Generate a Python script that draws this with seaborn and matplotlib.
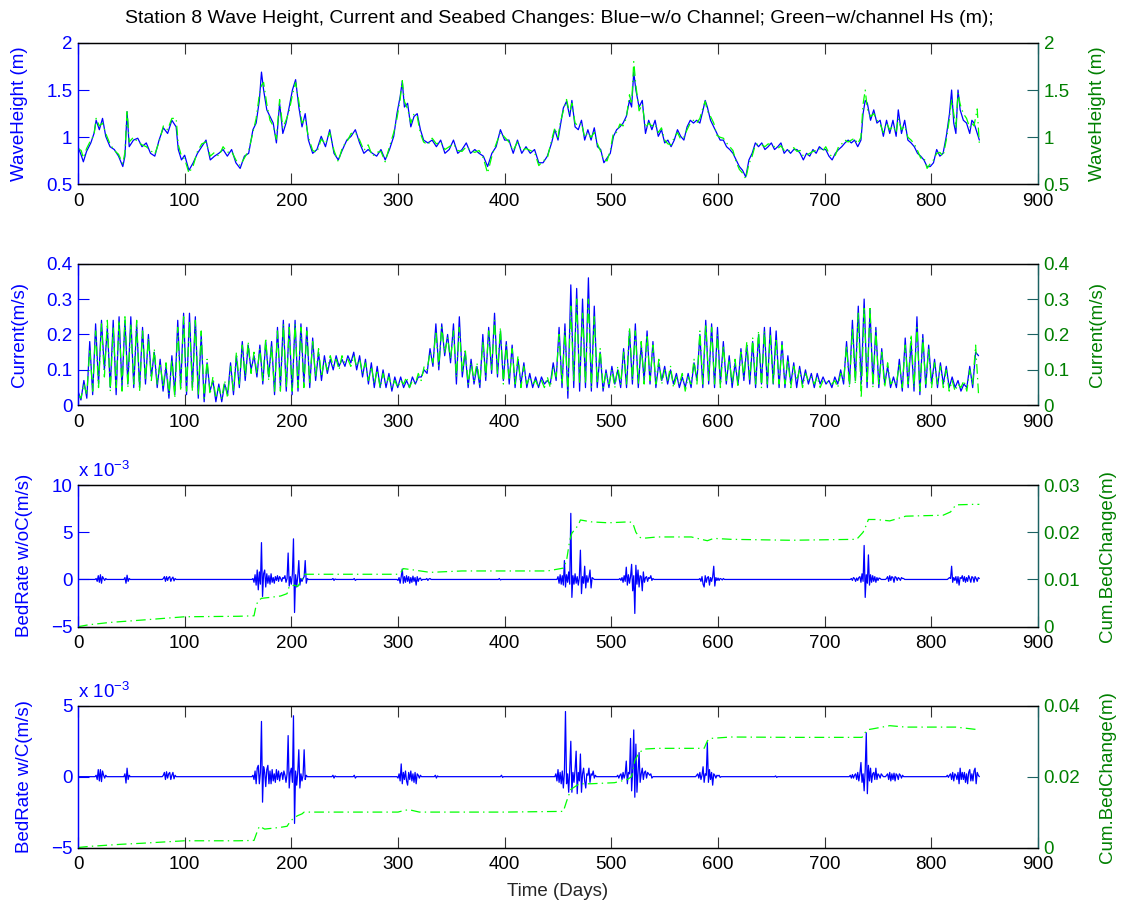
import numpy as np
import matplotlib
matplotlib.use("Agg")
import matplotlib.pyplot as plt
from matplotlib.ticker import FuncFormatter
import seaborn as sns

# ---------------------------------------------------------------- data
# Significant wave height (m), without / with channel
WH_DAYS = [0, 3, 5, 8, 12, 15, 17, 20, 23, 26, 30, 34, 38, 42, 44, 46, 48, 52, 56, 60,
           64, 68, 72, 76, 80, 84, 88, 92, 94, 97, 100, 104, 108, 112, 116, 120, 124, 128, 132, 136,
           140, 144, 148, 152, 156, 160, 164, 167, 170, 172, 174, 177, 180, 183, 186, 189, 192, 195, 198, 201,
           204, 207, 210, 213, 216, 220, 224, 228, 232, 236, 240, 244, 248, 252, 256, 260, 264, 268, 272, 276,
           280, 284, 288, 292, 296, 299, 302, 304, 306, 309, 312, 315, 318, 321, 324, 328, 332, 336, 340, 344,
           348, 352, 356, 360, 364, 368, 372, 376, 380, 384, 388, 392, 396, 400, 404, 408, 412, 416, 420, 424,
           428, 432, 436, 440, 444, 447, 450, 452, 455, 458, 461, 463, 466, 469, 472, 475, 478, 481, 484, 487,
           490, 493, 496, 499, 502, 505, 508, 511, 514, 517, 519, 521, 523, 526, 529, 532, 535, 538, 541, 544,
           547, 550, 553, 556, 559, 562, 565, 568, 571, 574, 577, 580, 583, 586, 588, 590, 593, 596, 599, 602,
           605, 608, 611, 614, 617, 620, 623, 626, 629, 632, 635, 638, 641, 644, 647, 650, 653, 656, 659, 662,
           665, 668, 671, 674, 677, 680, 683, 686, 689, 692, 695, 698, 701, 704, 707, 710, 713, 716, 719, 722,
           725, 728, 731, 734, 736, 738, 740, 743, 746, 749, 752, 755, 758, 761, 764, 767, 769, 772, 775, 778,
           781, 784, 787, 790, 793, 796, 799, 802, 805, 808, 811, 814, 817, 819, 821, 823, 825, 827, 830, 833,
           836, 838, 840, 843, 845]
WH_WO = [0.90, 0.81, 0.74, 0.85, 0.94, 1.04, 1.18, 1.08, 1.20, 1.01, 0.90, 0.87, 0.80, 0.69, 0.80, 1.27, 0.90, 0.97, 0.99, 0.90,
         0.94, 0.83, 0.80, 0.97, 1.10, 1.04, 1.18, 1.11, 0.87, 0.76, 0.81, 0.65, 0.73, 0.83, 0.90, 0.97, 0.76, 0.80, 0.83, 0.87,
         0.80, 0.87, 0.73, 0.67, 0.80, 0.83, 1.08, 1.15, 1.39, 1.69, 1.50, 1.29, 1.22, 1.15, 0.94, 1.36, 1.04, 1.15, 1.32, 1.50,
         1.61, 1.32, 1.11, 1.25, 0.97, 0.83, 0.87, 1.01, 0.90, 1.08, 0.83, 0.76, 0.87, 0.97, 1.01, 1.08, 0.94, 0.83, 0.87, 0.83,
         0.80, 0.87, 0.76, 0.87, 1.01, 1.25, 1.43, 1.59, 1.32, 1.36, 1.11, 1.22, 1.25, 1.08, 0.97, 0.94, 0.97, 0.90, 0.97, 0.83,
         0.87, 0.97, 0.83, 0.87, 0.94, 0.83, 0.87, 0.83, 0.80, 0.69, 0.83, 0.90, 1.08, 0.97, 0.97, 0.83, 0.97, 0.83, 0.90, 0.83,
         0.87, 0.73, 0.73, 0.80, 0.94, 1.08, 0.97, 1.11, 1.31, 1.38, 1.22, 1.39, 1.11, 1.08, 1.18, 0.97, 1.08, 0.97, 1.10, 0.90,
         0.87, 0.73, 0.78, 0.83, 1.01, 1.08, 1.11, 1.15, 1.22, 1.39, 1.32, 1.69, 1.50, 1.32, 1.39, 1.04, 1.18, 1.08, 1.18, 1.01,
         1.08, 0.94, 0.97, 0.90, 0.97, 1.08, 1.01, 0.97, 1.11, 1.18, 1.15, 1.18, 1.15, 1.29, 1.39, 1.32, 1.18, 1.11, 1.04, 0.97,
         0.97, 0.90, 0.87, 0.83, 0.76, 0.69, 0.65, 0.58, 0.76, 0.83, 0.94, 0.90, 0.94, 0.87, 0.90, 0.94, 0.87, 0.90, 0.94, 0.83,
         0.87, 0.83, 0.87, 0.87, 0.83, 0.76, 0.83, 0.80, 0.87, 0.83, 0.90, 0.87, 0.87, 0.80, 0.76, 0.83, 0.87, 0.90, 0.94, 0.97,
         0.94, 0.97, 0.90, 0.97, 1.25, 1.39, 1.36, 1.18, 1.29, 1.15, 1.18, 1.01, 1.18, 1.04, 1.18, 1.01, 1.29, 1.04, 1.18, 0.97,
         0.94, 0.90, 0.83, 0.80, 0.76, 0.69, 0.69, 0.73, 0.87, 0.80, 0.83, 1.01, 1.25, 1.50, 1.15, 1.04, 1.50, 1.29, 1.18, 1.15,
         1.04, 1.18, 1.15, 1.04, 0.97]
WH_WC = [0.88, 0.86, 0.78, 0.88, 0.97, 1.02, 1.20, 1.12, 1.15, 1.04, 0.93, 0.86, 0.82, 0.72, 0.84, 1.29, 0.95, 1.00, 0.95, 0.92,
         0.90, 0.86, 0.82, 0.95, 1.12, 1.08, 1.20, 1.20, 0.92, 0.80, 0.77, 0.62, 0.70, 0.85, 0.93, 0.95, 0.80, 0.84, 0.80, 0.90,
         0.84, 0.85, 0.76, 0.70, 0.78, 0.86, 1.05, 1.20, 1.45, 1.55, 1.58, 1.35, 1.18, 1.12, 0.98, 1.40, 1.10, 1.18, 1.28, 1.45,
         1.58, 1.38, 1.15, 1.20, 1.00, 0.86, 0.84, 0.98, 0.93, 1.05, 0.86, 0.74, 0.90, 0.95, 1.04, 1.05, 0.97, 0.86, 0.92, 0.80,
         0.84, 0.85, 0.74, 0.90, 1.05, 1.20, 1.40, 1.60, 1.38, 1.30, 1.15, 1.25, 1.22, 1.04, 0.95, 0.92, 0.99, 0.93, 0.95, 0.87,
         0.90, 0.93, 0.86, 0.85, 0.90, 0.86, 0.84, 0.86, 0.78, 0.62, 0.80, 0.93, 1.05, 1.00, 0.95, 0.86, 0.95, 0.86, 0.88, 0.86,
         0.84, 0.70, 0.75, 0.78, 0.97, 1.10, 1.00, 1.15, 1.28, 1.40, 1.25, 1.36, 1.15, 1.12, 1.15, 1.00, 1.05, 1.00, 1.05, 0.93,
         0.85, 0.76, 0.75, 0.86, 1.05, 1.05, 1.14, 1.12, 1.20, 1.45, 1.35, 1.80, 1.55, 1.28, 1.35, 1.10, 1.15, 1.12, 1.14, 1.05,
         1.10, 0.97, 0.93, 0.92, 1.00, 1.05, 0.98, 1.00, 1.08, 1.15, 1.18, 1.15, 1.20, 1.32, 1.38, 1.28, 1.22, 1.15, 1.02, 1.00,
         0.99, 0.94, 0.90, 0.86, 0.74, 0.66, 0.62, 0.56, 0.72, 0.80, 0.92, 0.93, 0.92, 0.90, 0.93, 0.92, 0.90, 0.88, 0.91, 0.86,
         0.85, 0.86, 0.89, 0.85, 0.86, 0.80, 0.81, 0.83, 0.85, 0.86, 0.88, 0.85, 0.90, 0.83, 0.79, 0.81, 0.90, 0.93, 0.97, 0.95,
         0.97, 0.99, 0.93, 1.00, 1.35, 1.50, 1.30, 1.22, 1.25, 1.18, 1.14, 1.05, 1.15, 1.08, 1.12, 1.05, 1.20, 1.08, 1.12, 1.00,
         0.97, 0.93, 0.86, 0.78, 0.79, 0.67, 0.72, 0.76, 0.83, 0.84, 0.80, 0.97, 1.20, 1.40, 1.25, 1.10, 1.47, 1.35, 1.25, 1.20,
         1.10, 1.15, 1.12, 1.30, 0.93]

# Depth-averaged current (m/s), sampled every 2.75 days
CUR_STEP = 2.75
CUR_WO = [0.04, 0.015, 0.07, 0.02, 0.18, 0.03, 0.23, 0.06, 0.24, 0.10,
          0.22, 0.05, 0.24, 0.03, 0.25, 0.05, 0.24, 0.06, 0.25, 0.05,
          0.23, 0.05, 0.22, 0.06, 0.20, 0.08, 0.15, 0.05, 0.13, 0.04,
          0.11, 0.02, 0.14, 0.03, 0.24, 0.05, 0.26, 0.03, 0.26, 0.05,
          0.25, 0.02, 0.20, 0.01, 0.12, 0.04, 0.07, 0.01, 0.06, 0.01,
          0.06, 0.03, 0.12, 0.03, 0.14, 0.05, 0.18, 0.07, 0.17, 0.10,
          0.14, 0.08, 0.17, 0.06, 0.18, 0.08, 0.18, 0.03, 0.22, 0.05,
          0.24, 0.04, 0.23, 0.03, 0.24, 0.04, 0.23, 0.06, 0.22, 0.05,
          0.19, 0.07, 0.15, 0.07, 0.14, 0.09, 0.13, 0.10, 0.14, 0.11,
          0.13, 0.11, 0.14, 0.12, 0.15, 0.10, 0.14, 0.08, 0.13, 0.06,
          0.12, 0.05, 0.11, 0.05, 0.10, 0.05, 0.09, 0.04, 0.08, 0.05,
          0.08, 0.05, 0.07, 0.05, 0.08, 0.06, 0.08, 0.08, 0.10, 0.09,
          0.16, 0.11, 0.23, 0.10, 0.23, 0.14, 0.20, 0.12, 0.23, 0.06,
          0.25, 0.08, 0.15, 0.05, 0.13, 0.06, 0.11, 0.05, 0.20, 0.07,
          0.22, 0.09, 0.26, 0.08, 0.21, 0.07, 0.18, 0.06, 0.17, 0.05,
          0.13, 0.06, 0.12, 0.05, 0.09, 0.05, 0.08, 0.05, 0.08, 0.06,
          0.07, 0.06, 0.12, 0.07, 0.22, 0.05, 0.23, 0.02, 0.34, 0.05,
          0.33, 0.04, 0.30, 0.05, 0.36, 0.04, 0.28, 0.05, 0.15, 0.04,
          0.10, 0.05, 0.11, 0.06, 0.10, 0.05, 0.16, 0.05, 0.21, 0.06,
          0.23, 0.05, 0.17, 0.07, 0.21, 0.06, 0.18, 0.05, 0.12, 0.07,
          0.11, 0.06, 0.10, 0.06, 0.09, 0.05, 0.08, 0.05, 0.09, 0.05,
          0.12, 0.07, 0.20, 0.05, 0.24, 0.06, 0.23, 0.05, 0.22, 0.06,
          0.18, 0.06, 0.14, 0.05, 0.12, 0.06, 0.16, 0.07, 0.17, 0.06,
          0.18, 0.05, 0.20, 0.06, 0.22, 0.05, 0.22, 0.06, 0.21, 0.05,
          0.18, 0.05, 0.14, 0.06, 0.12, 0.05, 0.11, 0.06, 0.10, 0.06,
          0.09, 0.05, 0.09, 0.06, 0.08, 0.06, 0.07, 0.05, 0.08, 0.06,
          0.10, 0.06, 0.18, 0.06, 0.24, 0.07, 0.28, 0.06, 0.30, 0.05,
          0.27, 0.06, 0.22, 0.05, 0.16, 0.06, 0.11, 0.05, 0.08, 0.05,
          0.13, 0.04, 0.19, 0.05, 0.18, 0.04, 0.25, 0.03, 0.20, 0.05,
          0.17, 0.06, 0.13, 0.05, 0.12, 0.06, 0.11, 0.05, 0.08, 0.05,
          0.07, 0.04, 0.06, 0.05, 0.11, 0.05, 0.15, 0.14]
CUR_WC = [0.03, 0.02, 0.06, 0.03, 0.16, 0.04, 0.21, 0.05, 0.23, 0.08,
          0.24, 0.04, 0.22, 0.05, 0.24, 0.04, 0.25, 0.05, 0.23, 0.06,
          0.24, 0.04, 0.21, 0.07, 0.19, 0.07, 0.16, 0.06, 0.12, 0.05,
          0.12, 0.03, 0.13, 0.02, 0.22, 0.04, 0.25, 0.04, 0.24, 0.04,
          0.24, 0.03, 0.21, 0.02, 0.13, 0.03, 0.08, 0.02, 0.05, 0.02,
          0.07, 0.02, 0.11, 0.04, 0.15, 0.06, 0.17, 0.08, 0.18, 0.09,
          0.15, 0.09, 0.16, 0.07, 0.19, 0.07, 0.17, 0.04, 0.21, 0.04,
          0.23, 0.05, 0.22, 0.04, 0.23, 0.05, 0.22, 0.05, 0.21, 0.06,
          0.18, 0.08, 0.16, 0.08, 0.13, 0.10, 0.14, 0.11, 0.13, 0.10,
          0.14, 0.12, 0.13, 0.11, 0.14, 0.11, 0.13, 0.09, 0.12, 0.07,
          0.11, 0.06, 0.10, 0.05, 0.09, 0.06, 0.08, 0.05, 0.07, 0.05,
          0.07, 0.06, 0.08, 0.05, 0.07, 0.06, 0.09, 0.07, 0.11, 0.10,
          0.15, 0.12, 0.21, 0.11, 0.22, 0.15, 0.19, 0.13, 0.21, 0.08,
          0.22, 0.09, 0.16, 0.06, 0.12, 0.07, 0.12, 0.06, 0.18, 0.08,
          0.21, 0.10, 0.24, 0.09, 0.22, 0.06, 0.17, 0.07, 0.16, 0.06,
          0.14, 0.05, 0.11, 0.06, 0.08, 0.06, 0.07, 0.05, 0.07, 0.05,
          0.08, 0.05, 0.11, 0.08, 0.20, 0.06, 0.21, 0.04, 0.28, 0.07,
          0.30, 0.06, 0.26, 0.06, 0.30, 0.05, 0.25, 0.06, 0.16, 0.05,
          0.09, 0.06, 0.10, 0.05, 0.11, 0.06, 0.15, 0.06, 0.22, 0.07,
          0.21, 0.06, 0.18, 0.06, 0.20, 0.07, 0.17, 0.06, 0.13, 0.06,
          0.10, 0.07, 0.11, 0.05, 0.08, 0.06, 0.09, 0.04, 0.08, 0.06,
          0.13, 0.06, 0.21, 0.06, 0.23, 0.07, 0.22, 0.06, 0.20, 0.05,
          0.17, 0.07, 0.13, 0.06, 0.13, 0.05, 0.15, 0.08, 0.18, 0.07,
          0.19, 0.06, 0.21, 0.05, 0.21, 0.06, 0.20, 0.06, 0.19, 0.06,
          0.17, 0.06, 0.13, 0.05, 0.11, 0.07, 0.10, 0.05, 0.09, 0.07,
          0.08, 0.06, 0.08, 0.05, 0.07, 0.07, 0.06, 0.06, 0.07, 0.05,
          0.09, 0.07, 0.17, 0.05, 0.22, 0.06, 0.26, 0.02, 0.28, 0.06,
          0.28, 0.05, 0.21, 0.06, 0.15, 0.05, 0.12, 0.06, 0.07, 0.06,
          0.12, 0.05, 0.17, 0.06, 0.20, 0.05, 0.22, 0.04, 0.19, 0.06,
          0.16, 0.05, 0.12, 0.06, 0.11, 0.05, 0.10, 0.04, 0.07, 0.04,
          0.06, 0.05, 0.07, 0.04, 0.10, 0.06, 0.17, 0.03]

# Bed-rate bursts (units of 1e-3 m/s), daily values starting at the given day;
# the rate is zero on all other days up to day 845
LAST_DAY = 845
BR_WO_START = [17, 44, 80, 164, 239, 259, 300, 327, 395, 450, 508, 583, 725, 758, 816]
BR_WO_BURSTS = [
    [0.1, -0.2, 0.4, -0.3, 0.5, -0.4, 0.3, 0.1, -0.1, 0.1],
    [0.2, -0.4, 0.45, -0.2, 0.1],
    [0.1, 0.3, -0.2, 0.3, -0.1, 0.2, 0.3, -0.2, 0.1, 0.25, -0.15, 0.1],
    [0.1, -0.3, 0.5, -0.6, 1.0, -1.1, 0.8, -0.5, 3.9, -1.8, 0.6, 1.0, -0.8, 0.6, -0.4, 0.4, -0.5, 0.6,
     -0.3, 0.2, -0.4, 0.3, -0.1, 0.4, -0.2, 0.3, 0.1, -0.2, 0.2, 0.1, 0.4, -0.3, 0.1, 2.8, -0.7, 0.3,
     -0.5, 0.6, 4.3, -3.5, 0.5, -0.8, 0.3, 2.0, -0.6, 0.1, -0.2, 0.1, 0.3, 2.0, -0.4, 0.1],
    [0.1, -0.1, 0.05],
    [0.1, -0.1],
    [-0.1, 0.2, -0.4, 0.3, 1.1, -0.4, 0.3, -0.3, 0.4, -0.2, 0.3, -0.4, 0.2, -0.3, 0.35, -0.2, 0.2,
     -0.6, 0.3, -0.2, 0.1, 0.15, -0.1],
    [0.1, -0.1, 0.05, 0.1],
    [0.1, -0.05],
    [0.3, -0.4, 0.5, -0.5, 0.4, -0.6, 2.0, -0.8, 0.5, -0.3, 0.8, -0.5, 7.0, -1.9, 0.4, -0.5, 0.6, -0.4,
     0.3, -0.6, 0.2, 3.1, -1.5, 0.3, -0.4, 1.4, -0.9, 0.4, -0.3, 0.2, 1.0, -0.9, 0.2, 0.1],
    [0.1, -0.1, 0.2, -0.3, 0.4, -0.2, 1.3, -0.6, 0.5, -0.4, 0.3, 1.6, -1.2, 0.4, -3.6, 1.5, -0.5, 1.0,
     -0.8, 0.4, 0.3, -1.2, 0.8, -0.3, 0.2, 0.3, -0.2, 0.2, 0.1, 0.4, -0.1, 0.1],
    [0.1, -0.2, 0.3, -0.5, -0.8, 0.4, -0.3, 0.2, 0.3, -0.6, 0.2, -0.2, 0.3, 1.4, -0.7, 0.2, -0.1, 0.15,
     -0.1, 0.1, 0.05, -0.05, 0.1],
    [0.1, -0.1, 0.2, 0.1, -0.2, 0.15, -0.1, 0.2, 0.3, -0.3, 0.6, -0.2, 3.6, -1.9, 0.5, -0.4, 2.6, -0.6,
     0.5, -0.3, 0.4, -0.2, 0.3, -0.3, 0.2, -0.1, 0.15, 0.1],
    [0.1, 0.3, -0.2, 0.4, -0.1, 0.3, 0.2, -0.3, 0.3, 0.2, -0.1, 0.2, 0.1, -0.1, 0.2, 0.1, 0.1],
    [0.1, 0.2, 0.1, 1.4, -0.3, 0.2, -0.1, 0.3, -0.4, 0.3, -0.6, 0.2, 0.1, 0.4, -0.2, 0.3, -0.3, 0.2,
     -0.2, 0.4, 0.1, -0.3, 0.3, 0.2, -0.3, 0.3, 0.1, -0.2, 0.2, 0.1],
]
BR_WC_START = [17, 44, 80, 164, 239, 259, 300, 335, 397, 448, 506, 580, 654, 724, 758, 815]
BR_WC_BURSTS = [
    [0.1, -0.2, 0.5, -0.3, 0.5, -0.35, 0.4, 0.1, -0.1, 0.1],
    [0.2, -0.45, 0.6, -0.2, 0.1],
    [0.1, 0.3, -0.2, 0.35, -0.1, 0.2, 0.3, -0.2, 0.1, 0.3, -0.15, 0.1],
    [0.1, -0.2, 0.4, -0.5, 0.6, 0.8, -0.5, 0.3, 3.9, -1.8, 0.7, 0.3, -0.7, 0.5, 0.8, -0.5, 0.4, -0.5,
     0.5, -0.3, 0.2, -0.4, 0.5, -0.2, 0.4, -0.3, 0.2, 0.3, -0.2, 0.4, 0.1, -0.4, 0.2, 2.9, -0.8, 0.3,
     0.6, -0.4, 4.3, -3.3, 0.4, -0.6, 0.3, 1.9, -0.8, 0.2, -0.3, 0.1, 1.9, -0.2, 0.1],
    [0.1, -0.1, 0.05],
    [0.1, -0.1],
    [-0.1, 0.2, -0.3, 0.9, -0.5, 0.3, -0.2, 0.4, -0.3, -0.6, 0.3, -0.2, 0.4, -0.3, 0.2, -0.4, 0.3,
     -0.5, 0.2, 0.1, -0.1, 0.1],
    [0.1, -0.1, 0.05],
    [0.1, -0.05],
    [0.2, -0.3, 0.5, -0.4, 0.3, -0.5, 0.4, -0.8, 0.3, 4.6, -0.5, 0.2, -1.1, 0.5, 2.5, -1.1, 0.3, -0.4,
     0.5, 1.8, -1.2, 0.3, -0.3, 1.6, -1.1, 0.2, 0.6, -0.3, -0.8, 0.2, 0.1, 0.6, -0.4, 0.2, 0.1, 0.4,
     -0.1, 0.1],
    [0.1, -0.1, 0.1, 0.2, -0.2, 0.3, -0.1, 0.2, 1.1, -0.5, 0.3, 0.2, 2.7, -1.0, 0.4, 3.3, -1.45, 2.3,
     -1.1, 0.3, 1.7, -0.4, 0.2, 0.6, -0.2, 0.3, 0.4, -0.1, 0.3, 0.2, 0.1, 0.2, -0.1],
    [0.1, 0.2, -0.1, 0.3, -0.2, 0.1, 0.7, -0.4, 0.2, 0.1, 2.4, -0.4, 0.5, -0.2, 0.3, -0.6, 0.2, 0.1,
     -0.1, 0.1, 0.05, 0.1, -0.05],
    [0.05, -0.05],
    [0.1, -0.1, 0.15, -0.1, 0.1, 0.2, -0.2, 0.3, -0.3, 0.2, 1.0, -0.4, 0.2, -1.0, 0.5, 3.1, -1.2, 0.8,
     -0.3, 0.6, -0.4, 0.2, 0.3, -0.2, 0.6, -0.2, 0.2, 0.1, -0.1, 0.2, 0.1],
    [0.1, 0.2, -0.2, 0.3, -0.3, 0.2, -0.2, 0.25, -0.3, 0.2, 0.1, -0.2, 0.2, 0.1, -0.1, 0.1],
    [0.1, -0.05, 0.1, 0.2, -0.2, 0.3, -0.3, 0.2, 0.1, -0.2, 0.3, -0.5, 0.6, -0.2, 0.3, -0.2, 0.3,
     -0.4, 0.2, -0.5, 0.3, 0.5, -0.3, 0.2, -0.3, 0.4, 0.6, -0.5, 0.3, 0.1],
]

# Cumulative bed change (m)
CUM_WO_DAYS = [0, 10, 30, 60, 100, 150, 165, 167, 169, 172, 180, 190, 196, 198, 203, 206, 210, 212, 240,
               300, 303, 305, 315, 330, 360, 440, 455, 458, 461, 463, 469, 471, 481, 497, 517, 520, 523,
               526, 529, 543, 575, 590, 596, 612, 668, 730, 736, 739, 741, 748, 761, 776, 792, 811, 818,
               823, 839, 845]
CUM_WO = [0.0, 0.0004, 0.0009, 0.0014, 0.0021, 0.0022, 0.0023, 0.0045, 0.0055, 0.0060, 0.0062, 0.0065,
          0.0070, 0.0085, 0.0088, 0.0085, 0.0100, 0.0111, 0.0111, 0.0111, 0.0116, 0.0123, 0.0120, 0.0115,
          0.0118, 0.0118, 0.0124, 0.0140, 0.0183, 0.0198, 0.0215, 0.0226, 0.0222, 0.0220, 0.0222, 0.0220,
          0.0200, 0.0190, 0.0187, 0.0190, 0.0190, 0.0182, 0.0187, 0.0185, 0.0183, 0.0185, 0.0200, 0.0215,
          0.0227, 0.0227, 0.0224, 0.0234, 0.0235, 0.0236, 0.0243, 0.0258, 0.0259, 0.0259]
CUM_WC_DAYS = [0, 10, 40, 60, 100, 150, 165, 168, 170, 175, 190, 196, 199, 203, 206, 210, 212, 220, 300,
               305, 310, 320, 400, 455, 458, 462, 470, 481, 503, 515, 519, 522, 526, 531, 543, 587, 590,
               593, 612, 668, 735, 738, 741, 745, 761, 776, 807, 823, 843, 845]
CUM_WC = [0.0, 0.0003, 0.0009, 0.0012, 0.0019, 0.0019, 0.0020, 0.0045, 0.0060, 0.0052, 0.0057, 0.0060,
          0.0074, 0.0085, 0.0090, 0.0095, 0.0100, 0.0100, 0.0100, 0.0104, 0.0107, 0.0100, 0.0100, 0.0102,
          0.0130, 0.0164, 0.0180, 0.0180, 0.0183, 0.0192, 0.0200, 0.0245, 0.0268, 0.0278, 0.0280, 0.0280,
          0.0301, 0.0308, 0.0312, 0.0311, 0.0311, 0.0325, 0.0333, 0.0335, 0.0344, 0.0340, 0.0340, 0.0340,
          0.0333, 0.0333]

TITLE = "Station 8 Wave Height, Current and Seabed Changes: Blue\u2212w/o Channel; Green\u2212w/channel Hs (m);"
LEFT_LABELS = ["WaveHeight (m)", "Current(m/s)", "BedRate w/oC(m/s)", "BedRate w/C(m/s)"]
RIGHT_LABELS = ["WaveHeight (m)", "Current(m/s)", "Cum.BedChange(m)", "Cum.BedChange(m)"]
X_LABEL = "Time (Days)"
X_TICKS = list(range(0, 901, 100))


def daily_series(starts, bursts):
    days = np.arange(0, LAST_DAY + 1)
    vals = np.zeros(days.size)
    for s, b in zip(starts, bursts):
        vals[s:s + len(b)] = b
    return days, vals


# ---------------------------------------------------------------- style
sns.set_style("white")
plt.rcParams["font.family"] = ["Liberation Sans", "DejaVu Sans"]
plt.rcParams["mathtext.fontset"] = "custom"
plt.rcParams["mathtext.rm"] = "Liberation Sans"
plt.rcParams["mathtext.it"] = "Liberation Sans"
plt.rcParams["lines.scale_dashes"] = False

BLUE = "#0000FF"
LIME = "#00FF00"
GREEN_TXT = "#008000"
TEAL = "#1c6262"
FS = 13.5
DASHDOT = (0, (7, 3, 1, 3))

fig = plt.figure(figsize=(11.24, 9.11), dpi=100)

left, width, height = 0.0694, 0.8541, 0.1555
bottoms = [0.7975, 0.5551, 0.3121, 0.0697]

wo_days, br_wo = daily_series(BR_WO_START, BR_WO_BURSTS)
wc_days, br_wc = daily_series(BR_WC_START, BR_WC_BURSTS)
cur_days = np.arange(len(CUR_WO)) * CUR_STEP

panels = [
    dict(x1=WH_DAYS, y1=WH_WO, x2=WH_DAYS, y2=WH_WC,
         yl=(0.5, 2), yt=[0.5, 1, 1.5, 2], yl2=(0.5, 2), yt2=[0.5, 1, 1.5, 2],
         lab_l=-0.052, lab_r=1.053, sci=False),
    dict(x1=cur_days, y1=CUR_WO, x2=cur_days, y2=CUR_WC,
         yl=(0, 0.4), yt=[0, 0.1, 0.2, 0.3, 0.4], yl2=(0, 0.4), yt2=[0, 0.1, 0.2, 0.3, 0.4],
         lab_l=-0.052, lab_r=1.053, sci=False),
    dict(x1=wo_days, y1=br_wo, x2=CUM_WO_DAYS, y2=CUM_WO,
         yl=(-5, 10), yt=[-5, 0, 5, 10], yl2=(0, 0.03), yt2=[0, 0.01, 0.02, 0.03],
         lab_l=-0.047, lab_r=1.064, sci=True),
    dict(x1=wc_days, y1=br_wc, x2=CUM_WC_DAYS, y2=CUM_WC,
         yl=(-5, 5), yt=[-5, 0, 5], yl2=(0, 0.04), yt2=[0, 0.02, 0.04],
         lab_l=-0.047, lab_r=1.064, sci=True),
]

fmt = FuncFormatter(lambda v, p: f"{v:g}".replace("-", "\u2212"))

for i, (b, p) in enumerate(zip(bottoms, panels)):
    ax = fig.add_axes([left, b, width, height])
    ax2 = ax.twinx()

    sns.lineplot(x=np.asarray(p["x1"], float), y=np.asarray(p["y1"], float), ax=ax,
                 color=BLUE, linewidth=0.9, estimator=None, sort=False, legend=False)
    sns.lineplot(x=np.asarray(p["x2"], float), y=np.asarray(p["y2"], float), ax=ax2,
                 color=LIME, linewidth=0.9, linestyle=DASHDOT, estimator=None, sort=False,
                 legend=False)

    for a in (ax, ax2):
        a.set_xlim(0, 900)
        a.set_xticks(X_TICKS)
        for side in ("top", "bottom"):
            a.spines[side].set_color("black")
            a.spines[side].set_linewidth(0.9)
        a.spines["left"].set_color(BLUE)
        a.spines["left"].set_linewidth(0.9)
        a.spines["right"].set_color(TEAL)
        a.spines["right"].set_linewidth(0.9)

    ax.set_ylim(*p["yl"])
    ax.set_yticks(p["yt"])
    ax.yaxis.set_major_formatter(fmt)
    ax2.set_ylim(*p["yl2"])
    ax2.set_yticks(p["yt2"])
    ax2.yaxis.set_major_formatter(fmt)

    ax.tick_params(axis="x", which="both", direction="in", top=True, bottom=True,
                   length=8, width=0.8, color="#333333", labelcolor="black", labelsize=FS, pad=6)
    ax.tick_params(axis="y", direction="in", left=True, right=False, length=8, width=0.8,
                   color=BLUE, labelcolor=BLUE, labelsize=FS, pad=4)
    ax2.tick_params(axis="y", direction="in", right=True, left=False, length=8, width=0.8,
                    color=TEAL, labelcolor=GREEN_TXT, labelsize=FS, pad=4)

    ax.set_xlabel("")
    ax.set_ylabel(LEFT_LABELS[i], color=BLUE, fontsize=FS)
    ax.yaxis.set_label_coords(p["lab_l"], 0.5)
    ax2.set_ylabel(RIGHT_LABELS[i], color=GREEN_TXT, fontsize=FS)
    ax2.yaxis.set_label_coords(p["lab_r"], 0.5)

    if p["sci"]:
        ax.text(0.0, 1.03, r"x 10$^{\mathregular{-3}}$", transform=ax.transAxes,
                ha="left", va="bottom", color=BLUE, fontsize=FS)

    if i == len(panels) - 1:
        ax.set_xlabel(X_LABEL, fontsize=FS, labelpad=7)

fig.text(0.498, 0.980, TITLE, ha="center", va="center", fontsize=14, color="black")

fig.savefig("out.png", dpi=100, facecolor="white")
